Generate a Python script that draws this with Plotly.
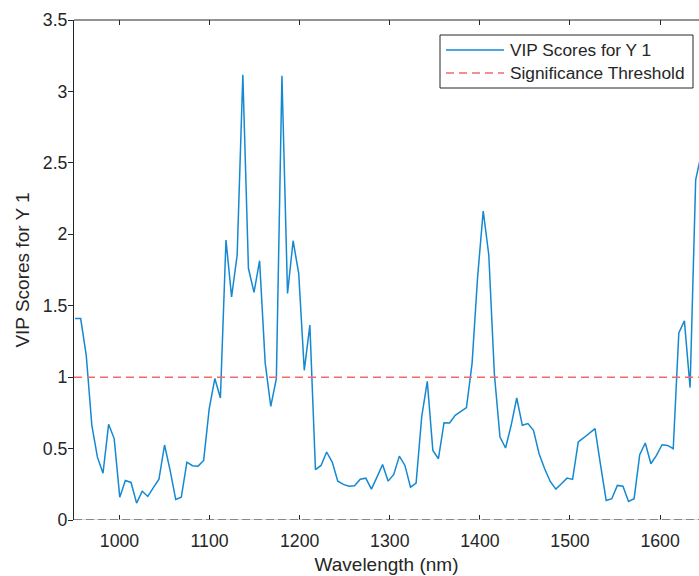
import plotly.graph_objects as go

wavelength_nm = [
    950.7, 956.9, 963.1, 969.3, 975.5, 981.7, 987.9, 994.1, 1000.3, 1006.5,
    1012.8, 1019.0, 1025.2, 1031.4, 1037.6, 1043.8, 1050.0, 1056.2, 1062.4, 1068.6,
    1074.8, 1081.0, 1087.2, 1093.4, 1099.6, 1105.8, 1112.0, 1118.2, 1124.4, 1130.6,
    1136.9, 1143.1, 1149.3, 1155.5, 1161.7, 1167.9, 1174.1, 1180.3, 1186.5, 1192.7,
    1198.9, 1205.1, 1211.3, 1217.5, 1223.7, 1229.9, 1236.1, 1242.3, 1248.5, 1254.7,
    1260.9, 1267.2, 1273.4, 1279.6, 1285.8, 1292.0, 1298.2, 1304.4, 1310.6, 1316.8,
    1323.0, 1329.2, 1335.4, 1341.6, 1347.8, 1354.0, 1360.2, 1366.4, 1372.6, 1378.8,
    1385.1, 1391.3, 1397.5, 1403.7, 1409.9, 1416.1, 1422.3, 1428.5, 1434.7, 1440.9,
    1447.1, 1453.3, 1459.5, 1465.7, 1471.9, 1478.1, 1484.3, 1490.5, 1496.7, 1502.9,
    1509.2, 1515.4, 1521.6, 1527.8, 1534.0, 1540.2, 1546.4, 1552.6, 1558.8, 1565.0,
    1571.2, 1577.4, 1583.6, 1589.8, 1596.0, 1602.2, 1608.4, 1614.6, 1620.8, 1627.0,
    1633.3, 1639.5, 1645.7,
]

vip_scores = [
    1.41, 1.41, 1.153, 0.663, 0.44, 0.328, 0.67, 0.57, 0.16, 0.277,
    0.263, 0.118, 0.202, 0.165, 0.226, 0.286, 0.525, 0.347, 0.144, 0.16,
    0.405, 0.38, 0.377, 0.417, 0.78, 0.99, 0.854, 1.96, 1.562, 1.855,
    3.117, 1.762, 1.593, 1.815, 1.1, 0.796, 0.99, 3.11, 1.586, 1.955,
    1.726, 1.048, 1.364, 0.352, 0.382, 0.476, 0.405, 0.272, 0.249, 0.237,
    0.24, 0.286, 0.293, 0.216, 0.3, 0.389, 0.272, 0.319, 0.447, 0.382,
    0.23, 0.258, 0.721, 0.971, 0.487, 0.429, 0.681, 0.679, 0.733, 0.763,
    0.787, 1.095, 1.703, 2.163, 1.855, 1.02, 0.581, 0.504, 0.663, 0.854,
    0.663, 0.675, 0.628, 0.464, 0.359, 0.27, 0.216, 0.254, 0.293, 0.284,
    0.546, 0.576, 0.609, 0.64, 0.382, 0.137, 0.149, 0.242, 0.237, 0.13,
    0.149, 0.457, 0.539, 0.394, 0.452, 0.527, 0.522, 0.499, 1.31, 1.394,
    0.927, 2.381, 2.56,
]

threshold = 1.0
x_range = [949.5, 1643.2]
y_ticks = [0, 0.5, 1, 1.5, 2, 2.5, 3, 3.5]
x_ticks = [1000, 1100, 1200, 1300, 1400, 1500, 1600]

series_name = "VIP Scores for Y 1"
threshold_name = "Significance Threshold"

FONT = "Liberation Sans, Arial, Helvetica, sans-serif"
TXT = "#262626"
BLUE = "#1489d2"
RED = "#f56868"
RED_DASH = "8px,5px"

fig = go.Figure()
fig.add_trace(go.Scatter(
    x=wavelength_nm, y=vip_scores, mode="lines", name=series_name,
    line=dict(color=BLUE, width=1.5),
))
fig.add_trace(go.Scatter(
    x=x_range, y=[threshold, threshold], mode="lines", name=threshold_name,
    line=dict(color=RED, width=1.5, dash=RED_DASH),
))

# Legend drawn as a boxed key (MATLAB style), in paper coordinates
LEG_X0, LEG_X1, LEG_Y0, LEG_Y1 = 0.5856, 0.9904, 0.864, 0.97
SAMPLE_X0, SAMPLE_X1, TEXT_X = 0.5952, 0.688, 0.694
ROW_Y = [0.94, 0.894]

shapes = [
    dict(type="line", xref="paper", yref="paper", x0=0, x1=1, y0=1, y1=1,
         line=dict(color=TXT, width=1)),
    dict(type="line", xref="paper", yref="y", x0=0, x1=1, y0=0, y1=0,
         line=dict(color="#bdbdbd", width=1)),
    dict(type="line", xref="paper", yref="y", x0=0, x1=1, y0=0, y1=0,
         line=dict(color="#333333", width=1.2, dash="8px,4px")),
    dict(type="rect", xref="paper", yref="paper", x0=LEG_X0, x1=LEG_X1,
         y0=LEG_Y0, y1=LEG_Y1, fillcolor="white", line=dict(color=TXT, width=1)),
    dict(type="line", xref="paper", yref="paper", x0=SAMPLE_X0, x1=SAMPLE_X1,
         y0=ROW_Y[0], y1=ROW_Y[0], line=dict(color=BLUE, width=1.5)),
    dict(type="line", xref="paper", yref="paper", x0=SAMPLE_X0, x1=SAMPLE_X1,
         y0=ROW_Y[1], y1=ROW_Y[1], line=dict(color=RED, width=1.5, dash=RED_DASH)),
]
annotations = [
    dict(text=name, xref="paper", yref="paper", x=TEXT_X, y=yy,
         xanchor="left", yanchor="middle", showarrow=False,
         font=dict(family=FONT, size=17.3, color=TXT))
    for name, yy in zip([series_name, threshold_name], ROW_Y)
]

fig.update_layout(
    width=699, height=576,
    margin=dict(l=74, r=0, t=20, b=56, pad=0),
    paper_bgcolor="white", plot_bgcolor="white",
    font=dict(family=FONT, size=18, color=TXT),
    showlegend=False,
    xaxis=dict(
        range=x_range, tickvals=x_ticks, ticks="inside", ticklen=5,
        tickcolor=TXT, showline=False, mirror="ticks", showgrid=False,
        zeroline=False, tickfont=dict(size=17.7), ticklabelstandoff=8,
        title=dict(text="Wavelength (nm)", font=dict(size=19), standoff=7),
    ),
    yaxis=dict(
        range=[0, 3.5], tickvals=y_ticks, ticks="outside", ticklen=5,
        tickcolor=TXT, showline=True, linecolor=TXT, linewidth=1,
        mirror=False, showgrid=False, zeroline=False,
        tickfont=dict(size=17.7), ticklabelstandoff=-3,
        title=dict(text=series_name, font=dict(size=19), standoff=8),
    ),
    shapes=shapes,
    annotations=annotations,
)

fig.write_html("out.html", config={"displayModeBar": False},
               post_script="document.body.style.margin='0';")
